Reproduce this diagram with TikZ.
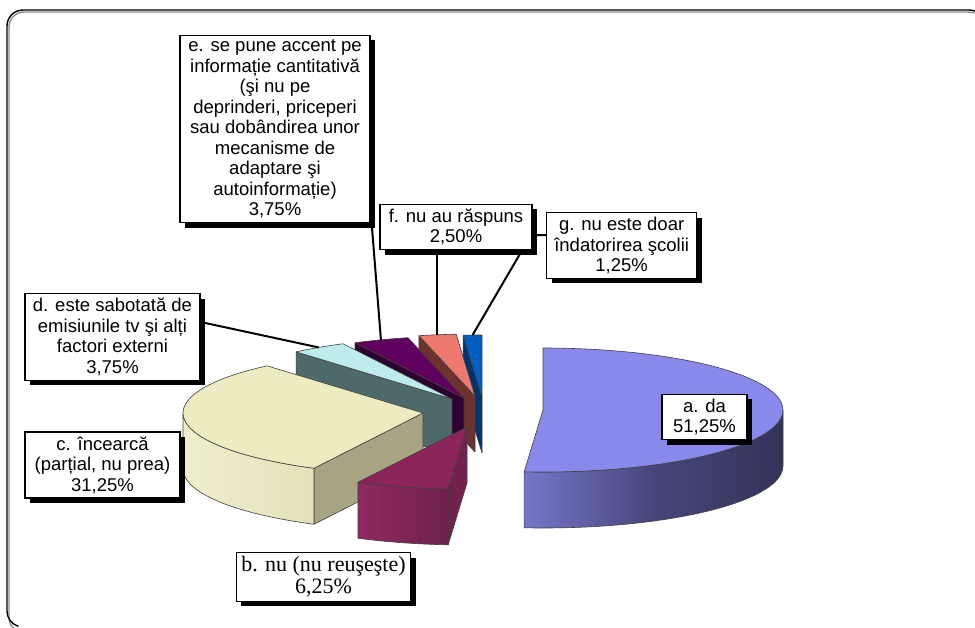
\documentclass[tikz,border=0pt]{standalone}
\usepackage{fontspec}
\setmainfont{Liberation Sans}
\newfontfamily\tnrfont{Liberation Serif}
\usetikzlibrary{shadows,calc}
\pgfdeclarelayer{bg}
\pgfdeclarelayer{mid}
\pgfsetlayers{bg,mid,main}

\definecolor{aTop}{RGB}{137,137,235}
\definecolor{aL}{RGB}{118,118,200}
\definecolor{aM}{RGB}{70,70,124}
\definecolor{aR}{RGB}{52,52,88}
\definecolor{bTop}{RGB}{140,35,90}
\definecolor{bL}{RGB}{142,42,96}
\definecolor{bR}{RGB}{105,30,72}
\definecolor{bSide}{RGB}{115,34,78}
\definecolor{cTop}{RGB}{237,236,192}
\definecolor{cL}{RGB}{240,239,204}
\definecolor{cR}{RGB}{216,214,170}
\definecolor{cSide}{RGB}{166,164,130}
\definecolor{dTop}{RGB}{190,235,235}
\definecolor{dSide}{RGB}{78,105,105}
\definecolor{eTop}{RGB}{95,0,95}
\definecolor{eSide}{RGB}{45,0,48}
\definecolor{fTop}{RGB}{236,120,110}
\definecolor{fSide}{RGB}{110,50,45}
\definecolor{gTop}{RGB}{0,96,192}
\definecolor{gSide}{RGB}{0,52,110}

% top face: center, start angle, end angle, colour
\newcommand\PieTop[4]{%
  \filldraw[fill=#4, pieedge] (#1) -- ++(#2:240pt and 62pt)
    arc[start angle=#2, end angle=#3, x radius=240pt, y radius=62pt] -- cycle;}
% radial side face: center, angle, colour
\newcommand\PieRad[3]{%
  \filldraw[fill=#3, pieedge] (#1) -- ++(#2:240pt and 62pt) -- ++(0,-56)
    -- ([yshift=-56pt]#1) -- cycle;}
% outer curved face: center, a1, a2, shading options
\newcommand\PieOut[4]{%
  \shade[#4] (#1) ++(#2:240pt and 62pt)
    arc[start angle=#2, end angle=#3, x radius=240pt, y radius=62pt] -- ++(0,-56)
    arc[start angle=#3, end angle=#2, x radius=240pt, y radius=62pt] -- cycle;
  \draw[pieedge] (#1) ++(#2:240pt and 62pt)
    arc[start angle=#2, end angle=#3, x radius=240pt, y radius=62pt] -- ++(0,-56)
    arc[start angle=#3, end angle=#2, x radius=240pt, y radius=62pt] -- cycle;}

\begin{document}
\begin{tikzpicture}[x=1pt,y=1pt,
  pieedge/.style={draw=black!75, line width=0.6pt, line join=round},
  lbl/.style={draw=black, line width=1.3pt, fill=white, align=center,
    font=\fontsize{18.5}{20.5}\selectfont, inner xsep=5pt, inner ysep=4.5pt,
    drop shadow={shadow xshift=5pt, shadow yshift=-5pt, fill=black, opacity=1}},
  lead/.style={draw=black, line width=2pt},
  frameline/.style={line width=1.4pt, line cap=round}]
\useasboundingbox (0,0) rectangle (975,-627);

% frame (only the top and left sides fall inside the picture)
\draw[frameline, black!45] (9,-618) arc[start angle=180, end angle=250, radius=14pt]
  (9,-618) -- (9,-27) arc[start angle=180, end angle=90, radius=15pt] -- (968,-12)
  arc[start angle=90, end angle=68, radius=15pt];
\draw[frameline, black] (7,-611) arc[start angle=180, end angle=252, radius=16pt]
  (7,-611) -- (7,-26) arc[start angle=180, end angle=90, radius=16pt] -- (969,-10)
  arc[start angle=90, end angle=68, radius=16pt];

% slice centres
\coordinate (Ca) at (543,-410);
\coordinate (Cb) at (467,-427);
\coordinate (Cc) at (423,-413);
\coordinate (Cd) at (452,-399);
\coordinate (Ce) at (464,-398);
\coordinate (Cf) at (475,-396);
\coordinate (Cg) at (482,-397);

\begin{pgfonlayer}{bg}
  % g
  \PieRad{Cg}{94.5}{gSide}
  \PieTop{Cg}{90}{94.5}{gTop}
  % f
  \PieRad{Cf}{103.5}{fSide}
  \PieTop{Cf}{94.5}{103.5}{fTop}
  % e
  \PieRad{Ce}{117}{eSide}
  \PieTop{Ce}{103.5}{117}{eTop}
  % d
  \PieRad{Cd}{130.5}{dSide}
  \PieTop{Cd}{117}{130.5}{dTop}
  % c
  \PieRad{Cc}{243}{cSide}
  \PieOut{Cc}{180}{243}{left color=cL, right color=cR}
  \PieTop{Cc}{130.5}{243}{cTop}
  % b
  \PieRad{Cb}{265.5}{bSide}
  \PieOut{Cb}{243}{265.5}{left color=bL, right color=bR}
  \PieTop{Cb}{243}{265.5}{bTop}
  % a
  \PieOut{Ca}{-94.5}{0}{left color=aL, right color=aR, middle color=aM}
  \PieTop{Ca}{-94.5}{90}{aTop}
\end{pgfonlayer}

% leader end points on the slices
\coordinate (pd) at ($(Cd)+(123.75:240pt and 62pt)$);
\coordinate (pe) at ($(Ce)+(110.25:240pt and 62pt)$);
\coordinate (pf) at ($(Cf)+(99:240pt and 62pt)$);
\coordinate (pg) at ($(Cg)+(92.25:240pt and 62pt)$);
\coordinate (gk) at (531,-235);

% labels
\node[lbl, minimum width=190pt] (e) at (275,-129) {e. se pune accent pe\\informație cantitativă\\(şi nu pe\\deprinderi, priceperi\\sau dobândirea unor\\mecanisme de\\adaptare şi\\autoinformație)\\3,75\%};
\node[lbl, minimum width=152pt] (f) at (456,-227) {f. nu au răspuns\\2,50\%};
\node[lbl, minimum width=150pt, anchor=north west] (g) at (546,-212) {g. nu este doar\\îndatorirea şcolii\\1,25\%};
\node[lbl, minimum width=175pt] (d) at (112.5,-337) {d. este sabotată de\\emisiunile tv şi alți\\factori externi\\3,75\%};
\node[lbl, minimum width=155pt] (c) at (102.5,-465) {c. încearcă\\(parțial, nu prea)\\31,25\%};
\node[lbl, minimum width=173pt, font=\tnrfont\fontsize{22}{22}\selectfont, inner ysep=4pt] (b) at (323.5,-577) {b. nu (nu reuşeşte)\\6,25\%};
\node[lbl, minimum width=85pt] (a) at (704.5,-417) {a. da\\51,25\%};

% leader lines
\begin{pgfonlayer}{mid}
  \draw[lead] (pd) -- ([yshift=15pt]d.east);
  \draw[lead] (pe) -- ([xshift=1pt]e.south east);
  \draw[lead] (pf) -- (pf |- f.south);
  \draw[lead] (pg) -- (gk) -- (gk -| g.west);
\end{pgfonlayer}
\end{tikzpicture}
\end{document}
